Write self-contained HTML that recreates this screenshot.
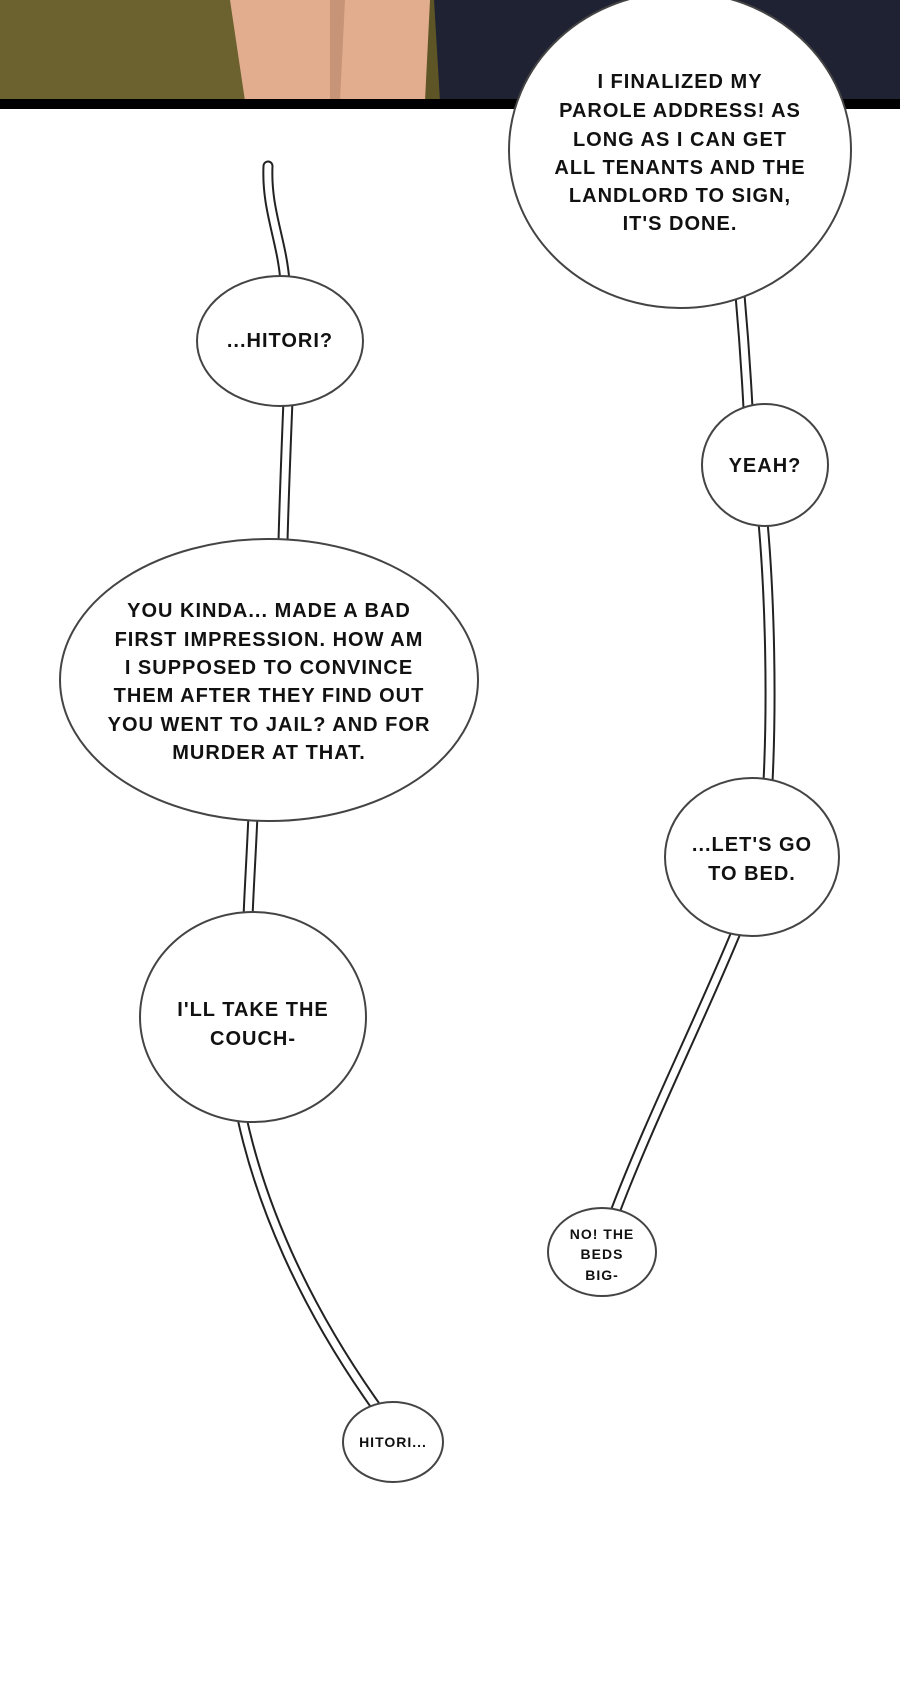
<!DOCTYPE html>
<html><head><meta charset="utf-8"><style>
html,body{margin:0;padding:0;background:#fff;}
svg{display:block}
text{font-family:"Liberation Sans",sans-serif;font-weight:bold;fill:#111;text-anchor:middle;letter-spacing:1px}
</style></head><body>
<svg width="900" height="1700" viewBox="0 0 900 1700" xmlns="http://www.w3.org/2000/svg">
<rect width="900" height="1700" fill="#fff"/>
<!-- top art -->
<rect x="0" y="0" width="900" height="101" fill="#5e5526"/>
<rect x="0" y="0" width="260" height="101" fill="#6b6230"/>
<path d="M230 0 L430 0 L425 101 L245 101 Z" fill="#e2ad8e"/>
<path d="M330 0 L345 0 L340 101 L330 101 Z" fill="#c89478"/>
<path d="M434 0 L900 0 L900 101 L440 101 Z" fill="#1f2233"/>
<rect x="0" y="99" width="900" height="10" fill="#000"/>
<!-- connectors -->
<g fill="none" stroke-linecap="round">
<g stroke="#222" stroke-width="11">
<path d="M268 166 C266 210 282 240 285 282"/>
<path d="M288 400 C286 450 284 500 283 542"/>
<path d="M253 815 C251 860 249 890 248 918"/>
<path d="M242 1118 C260 1200 300 1300 377 1408"/>
<path d="M740 295 C744 340 746 370 748 408"/>
<path d="M763 522 C770 600 772 700 768 782"/>
<path d="M737 930 C700 1020 650 1120 615 1212"/>
</g>
<g stroke="#fff" stroke-width="7">
<path d="M268 166 C266 210 282 240 285 282"/>
<path d="M288 400 C286 450 284 500 283 542"/>
<path d="M253 815 C251 860 249 890 248 918"/>
<path d="M242 1118 C260 1200 300 1300 377 1408"/>
<path d="M740 295 C744 340 746 370 748 408"/>
<path d="M763 522 C770 600 772 700 768 782"/>
<path d="M737 930 C700 1020 650 1120 615 1212"/>
</g>
</g>
<!-- bubbles -->
<g fill="#fff" stroke="#444" stroke-width="2">
<ellipse cx="680" cy="150" rx="171" ry="158"/>
<ellipse cx="280" cy="341" rx="83" ry="65"/>
<ellipse cx="269" cy="680" rx="209" ry="141"/>
<ellipse cx="253" cy="1017" rx="113" ry="105"/>
<ellipse cx="393" cy="1442" rx="50" ry="40"/>
<ellipse cx="765" cy="465" rx="63" ry="61"/>
<ellipse cx="752" cy="857" rx="87" ry="79"/>
<ellipse cx="602" cy="1252" rx="54" ry="44"/>
</g>
<g font-size="20">
<text x="680" y="88">I FINALIZED MY</text>
<text x="680" y="117">PAROLE ADDRESS! AS</text>
<text x="680" y="146">LONG AS I CAN GET</text>
<text x="680" y="174">ALL TENANTS AND THE</text>
<text x="680" y="202">LANDLORD TO SIGN,</text>
<text x="680" y="230">IT'S DONE.</text>
<text x="280" y="347">...HITORI?</text>
<text x="269" y="617">YOU KINDA... MADE A BAD</text>
<text x="269" y="646">FIRST IMPRESSION. HOW AM</text>
<text x="269" y="674">I SUPPOSED TO CONVINCE</text>
<text x="269" y="702">THEM AFTER THEY FIND OUT</text>
<text x="269" y="731">YOU WENT TO JAIL? AND FOR</text>
<text x="269" y="759">MURDER AT THAT.</text>
<text x="253" y="1016">I'LL TAKE THE</text>
<text x="253" y="1045">COUCH-</text>
<text x="765" y="472">YEAH?</text>
<text x="752" y="851">...LET'S GO</text>
<text x="752" y="880">TO BED.</text>
</g>
<g font-size="14">
<text x="393" y="1447">HITORI...</text>
<text x="602" y="1239">NO! THE</text>
<text x="602" y="1259">BEDS</text>
<text x="602" y="1280">BIG-</text>
</g>
</svg>
</body></html>
